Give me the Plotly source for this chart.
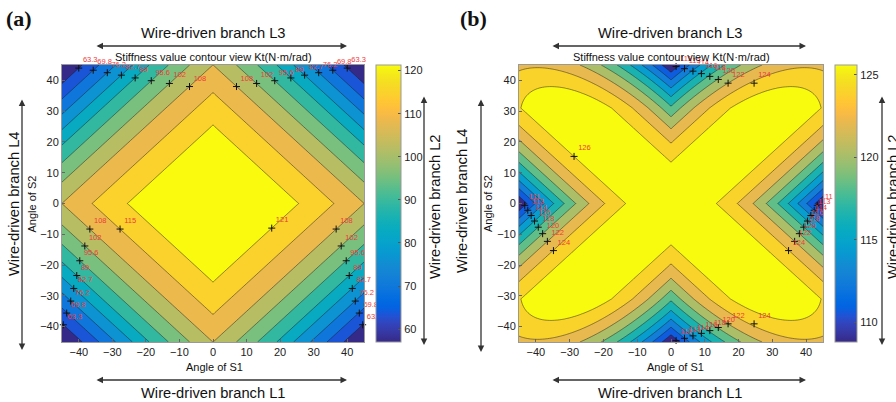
import numpy as np
import plotly.graph_objects as go

W, H = 896, 402

# ---------------- data ----------------
ANGLE_S1 = np.linspace(-45, 45, 181)
ANGLE_S2 = np.linspace(-45, 45, 181)

A_SUM_ANGLE = [0, 25.5, 36, 45, 52, 58.3, 64, 69, 74, 79, 84, 90]
A_STIFFNESS = [121.35, 121.2, 114.8, 108.4, 101.9, 95.5, 89.1, 82.7, 76.3, 69.8, 63.4, 57.0]
A_LEVEL_START, A_LEVEL_STEP, A_LEVEL_COUNT = 63.42, 6.42, 10
A_CBAR_RANGE = [57.0, 121.3]
A_CBAR_TICKS = [60, 70, 80, 90, 100, 110, 120]

A_LABEL_X = [-27.7, -36.7, -38.2, -39.7, -40.6, -41.5, -42.4, -43.6, -44.6,
             17.5, 36.7, 38.2, 39.7, 40.6, 41.5, 42.4, 43.6, 44.6,
             -40.0, -35.7, -31.5, -27.3, -23.2, -18.4, -13.0, -7.0,
             7.0, 13.0, 18.4, 23.2, 27.3, 31.5, 35.7, 40.0]
A_LABEL_Y = [-8.3, -8.3, -13.8, -18.6, -23.4, -27.6, -31.7, -35.6, -39.4,
             -8.0, -8.3, -13.8, -18.6, -23.4, -27.6, -31.7, -35.6, -39.4,
             44.0, 43.3, 42.5, 41.7, 40.8, 39.9, 39.0, 38.0,
             38.0, 39.0, 39.9, 40.8, 41.7, 42.5, 43.3, 44.0]
A_LABEL_TEXT = ["115", "108", "102", "95.6", "89", "82.7", "76.2", "69.8", "63.3",
                "121", "108", "102", "95.6", "89", "82.7", "76.2", "69.8", "63.3",
                "63.3", "69.8", "76.2", "82.7", "89", "95.6", "102", "108",
                "108", "102", "95.6", "89", "82.7", "76.2", "69.8", "63.3"]

# panel (b): peak, curvature across the diagonals, corner drop, plateau
B_PEAK, B_CURV = 127.57, 0.00927
B_CORNER, B_CORNER_START = 0.0065, 31.0
B_PLATEAU = 126.0
B_LEVEL_START, B_LEVEL_STEP, B_LEVEL_COUNT = 110.7, 1.9, 9
B_CBAR_RANGE = [108.8, 125.6]
B_CBAR_TICKS = [110, 115, 120, 125]

B_LABEL_X = [1.5, 4.0, 6.5, 9.0, 11.5, 14.0, 16.9, 24.6,
             1.5, 4.0, 6.5, 9.0, 11.5, 14.0, 16.9, 24.6,
             -43.3, -42.4, -41.4, -40.4, -39.3, -38.0, -36.6, -34.8,
             43.3, 42.4, 41.4, 40.4, 39.3, 38.0, 36.6, 34.8,
             -28.7]
B_LABEL_Y = [44.5, 43.8, 43.0, 42.2, 41.3, 40.3, 39.1, 39.1,
             -44.5, -43.8, -43.0, -42.2, -41.3, -40.3, -39.1, -39.1,
             -0.6, -2.2, -3.9, -5.7, -7.7, -9.8, -12.3, -15.3,
             -0.6, -2.2, -3.9, -5.7, -7.7, -9.8, -12.3, -15.3,
             15.3]
B_LABEL_TEXT = ["111", "113", "114", "116", "118", "120", "122", "124"] * 4 + ["126"]

AXIS_TICKS = [-40, -30, -20, -10, 0, 10, 20, 30, 40]

# ---------------- colours ----------------
PARULA = [
(0.2081,0.1663,0.5292),(0.2116,0.1898,0.5777),(0.2123,0.2138,0.6270),(0.2081,0.2386,0.6771),
(0.1959,0.2645,0.7279),(0.1707,0.2919,0.7792),(0.1253,0.3242,0.8303),(0.0591,0.3598,0.8683),
(0.0117,0.3875,0.8820),(0.0060,0.4086,0.8828),(0.0165,0.4266,0.8786),(0.0329,0.4430,0.8720),
(0.0498,0.4586,0.8641),(0.0629,0.4737,0.8554),(0.0723,0.4887,0.8467),(0.0779,0.5040,0.8384),
(0.0793,0.5200,0.8312),(0.0749,0.5375,0.8263),(0.0641,0.5570,0.8240),(0.0488,0.5772,0.8228),
(0.0343,0.5966,0.8199),(0.0265,0.6137,0.8135),(0.0239,0.6287,0.8038),(0.0231,0.6418,0.7913),
(0.0228,0.6535,0.7768),(0.0267,0.6642,0.7607),(0.0384,0.6743,0.7436),(0.0590,0.6838,0.7254),
(0.0843,0.6928,0.7062),(0.1133,0.7015,0.6859),(0.1453,0.7098,0.6646),(0.1801,0.7177,0.6424),
(0.2178,0.7250,0.6193),(0.2586,0.7317,0.5954),(0.3022,0.7376,0.5712),(0.3482,0.7424,0.5473),
(0.3953,0.7459,0.5244),(0.4420,0.7481,0.5033),(0.4871,0.7491,0.4840),(0.5300,0.7491,0.4661),
(0.5709,0.7485,0.4494),(0.6099,0.7473,0.4337),(0.6473,0.7456,0.4188),(0.6834,0.7435,0.4044),
(0.7184,0.7411,0.3905),(0.7525,0.7384,0.3768),(0.7858,0.7356,0.3633),(0.8185,0.7327,0.3498),
(0.8507,0.7299,0.3360),(0.8824,0.7274,0.3217),(0.9139,0.7258,0.3063),(0.9450,0.7261,0.2886),
(0.9739,0.7314,0.2666),(0.9938,0.7455,0.2403),(0.9990,0.7653,0.2164),(0.9955,0.7861,0.1967),
(0.9880,0.8066,0.1794),(0.9789,0.8271,0.1633),(0.9697,0.8481,0.1475),(0.9626,0.8705,0.1309),
(0.9589,0.8949,0.1132),(0.9598,0.9218,0.0948),(0.9661,0.9514,0.0755),(0.9763,0.9831,0.0538)]


def parula_rgb(t):
    t = min(max(t, 0.0), 1.0)
    pos = t * (len(PARULA) - 1)
    i = min(int(pos), len(PARULA) - 2)
    f = pos - i
    c = [PARULA[i][k] * (1 - f) + PARULA[i + 1][k] * f for k in range(3)]
    return "rgb(%d,%d,%d)" % tuple(round(255 * v) for v in c)


PARULA_SCALE = [[i / (len(PARULA) - 1), parula_rgb(i / (len(PARULA) - 1))] for i in range(len(PARULA))]


def band_scale(start, step, count, cmin, cmax):
    # plotly fill: band above level k is sampled at (k+1)/count; below first level at 0
    cols = [parula_rgb(0.0)] + [parula_rgb((start + k * step - cmin) / (cmax - cmin)) for k in range(count)]
    return [[j / count, c] for j, c in enumerate(cols)]


# ---------------- fields ----------------
XX, YY = np.meshgrid(ANGLE_S1, ANGLE_S2)
U, V = np.abs(XX), np.abs(YY)
ZA = np.interp(U + V, A_SUM_ANGLE, A_STIFFNESS)
ZB = np.minimum(B_PLATEAU,
                B_PEAK - B_CURV * (U - V) ** 2 - B_CORNER * U * np.maximum(V - B_CORNER_START, 0))

# ---------------- layout helpers ----------------
def px(x):
    return x / W


def py(y):
    return 1 - y / H


PLOT_TOP, PLOT_BOT = 65, 342
LINE_COL = "rgba(25,25,25,0.6)"

fig = go.Figure()

for (z, xa, ya, st, sz, n, cr) in [
        (ZA, "x", "y", A_LEVEL_START, A_LEVEL_STEP, A_LEVEL_COUNT, A_CBAR_RANGE),
        (ZB, "x2", "y2", B_LEVEL_START, B_LEVEL_STEP, B_LEVEL_COUNT, B_CBAR_RANGE)]:
    fig.add_trace(go.Contour(
        x=ANGLE_S1, y=ANGLE_S2, z=z, xaxis=xa, yaxis=ya,
        autocontour=False,
        contours=dict(start=st, end=st + (n - 1) * sz, size=sz, coloring="fill", showlines=True),
        colorscale=band_scale(st, sz, n, cr[0], cr[1]),
        line=dict(color=LINE_COL, width=0.8),
        showscale=False, hoverinfo="skip"))

for (lx, ly, lt, xa, ya) in [(A_LABEL_X, A_LABEL_Y, A_LABEL_TEXT, "x", "y"),
                             (B_LABEL_X, B_LABEL_Y, B_LABEL_TEXT, "x2", "y2")]:
    fig.add_trace(go.Scatter(
        x=lx, y=ly, text=lt, xaxis=xa, yaxis=ya, mode="markers+text",
        marker=dict(symbol="cross-thin", size=5, color="#111", line=dict(width=1, color="#111")),
        textposition="top right", textfont=dict(size=7.5, color="#ee3b3b", family="Liberation Sans, Arial"),
        cliponaxis=False, showlegend=False, hoverinfo="skip"))

# continuous colour bars
for (xa, ya, cr, ticks, x0, thick) in [("x", "y", A_CBAR_RANGE, A_CBAR_TICKS, 376, 25),
                                       ("x2", "y2", B_CBAR_RANGE, B_CBAR_TICKS, 835, 22)]:
    fig.add_trace(go.Scatter(
        x=[0], y=[0], xaxis=xa, yaxis=ya, mode="markers",
        marker=dict(size=0.1, opacity=0, color=[cr[0]], colorscale=PARULA_SCALE,
                    cmin=cr[0], cmax=cr[1], showscale=True,
                    colorbar=dict(x=px(x0), xanchor="left", y=py((PLOT_TOP + PLOT_BOT) / 2), yanchor="middle",
                                  len=PLOT_BOT - PLOT_TOP, lenmode="pixels", thickness=thick,
                                  thicknessmode="pixels", xpad=0, ypad=0, outlinewidth=1, outlinecolor="#999",
                                  tickvals=ticks, ticks="inside", ticklen=3, tickcolor="#555",
                                  tickfont=dict(size=11, color="#222", family="Liberation Sans, Arial"))),
        showlegend=False, hoverinfo="skip"))

axis_common = dict(range=[-45, 45], tickvals=AXIS_TICKS, showgrid=False, zeroline=False,
                   showline=True, linecolor="#999", linewidth=1, mirror=True,
                   ticks="inside", ticklen=3, tickcolor="#666",
                   tickfont=dict(size=11, color="#222", family="Liberation Sans, Arial"))

fig.update_layout(
    width=W, height=H, margin=dict(l=0, r=0, t=0, b=0),
    paper_bgcolor="white", plot_bgcolor="white", showlegend=False,
    xaxis=dict(domain=[px(62), px(364)], anchor="y", **axis_common),
    yaxis=dict(domain=[py(PLOT_BOT), py(PLOT_TOP)], anchor="x", **axis_common),
    xaxis2=dict(domain=[px(519), px(823)], anchor="y2", **axis_common),
    yaxis2=dict(domain=[py(PLOT_BOT), py(PLOT_TOP)], anchor="x2", **axis_common),
)

SANS = "Liberation Sans, Arial, sans-serif"
TEXTS = [
    (19, 18, "<b>(a)</b>", 22, 0, "Liberation Serif, Times New Roman, serif"),
    (473, 18, "<b>(b)</b>", 22, 0, "Liberation Serif, Times New Roman, serif"),
    (213, 33, "Wire-driven branch L3", 14.7, 0, SANS),
    (670, 33, "Wire-driven branch L3", 14.7, 0, SANS),
    (213, 57, "Stiffness value contour view Kt(N·m/rad)", 11, 0, SANS),
    (671, 57, "Stiffness value contour view Kt(N·m/rad)", 11, 0, SANS),
    (214, 367, "Angle of S1", 11, 0, SANS),
    (675, 367, "Angle of S1", 11, 0, SANS),
    (213, 393, "Wire-driven branch L1", 14.7, 0, SANS),
    (670, 393, "Wire-driven branch L1", 14.7, 0, SANS),
    (31.5, 204, "Angle of S2", 11, -90, SANS),
    (488, 203, "Angle of S2", 11, -90, SANS),
    (14, 204, "Wire-driven branch L4", 14.7, -90, SANS),
    (462, 201, "Wire-driven branch L4", 14.7, -90, SANS),
    (435, 207, "Wire-driven branch L2", 14.7, -90, SANS),
    (893, 207, "Wire-driven branch L2", 14.7, -90, SANS),
]
for (x, y, t, s, a, fam) in TEXTS:
    fig.add_annotation(x=px(x), y=py(y), xref="paper", yref="paper", text=t, showarrow=False,
                       textangle=a, xanchor="center", yanchor="middle",
                       font=dict(size=s, color="#111", family=fam))

ARROWS = [(95, 46, 347, 46), (95, 380, 347, 380), (22, 98, 22, 350), (424, 95, 424, 345),
          (551, 46, 806, 46), (551, 380, 806, 380), (481, 98, 481, 352), (882, 95, 882, 345)]
for (x1, y1, x2, y2) in ARROWS:
    fig.add_annotation(x=px(x2), y=py(y2), xref="paper", yref="paper", ax=x1 - x2, ay=y1 - y2,
                       axref="pixel", ayref="pixel", text="", showarrow=True, arrowhead=2,
                       arrowside="end+start", arrowsize=1, arrowwidth=1.3, arrowcolor="#333",
                       standoff=0, startstandoff=0)

fig.write_html("out.html")
